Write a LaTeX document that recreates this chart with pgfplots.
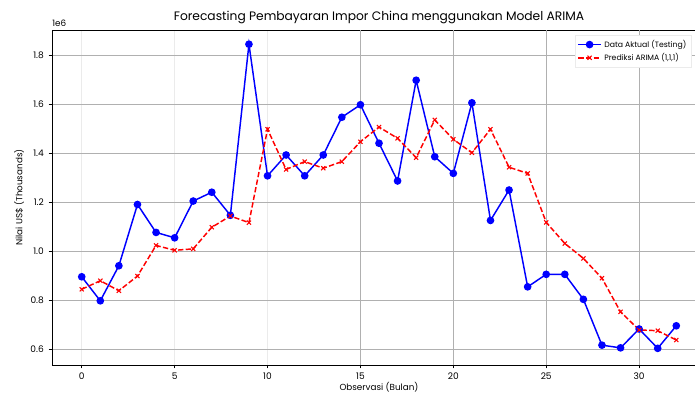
\documentclass[border=0pt]{standalone}
\usepackage{pgfplots}
\pgfplotsset{compat=1.18}
\usepackage{fontspec}
\setmainfont{Poppins}
\definecolor{gridd}{RGB}{176,176,176}
\definecolor{gridl}{RGB}{235,235,235}
\begin{document}
\begin{tikzpicture}
\path[use as bounding box] (0,0) rectangle (521.25pt,295.5pt);
\begin{axis}[
  at={(39pt,21.75pt)}, anchor=south west,
  scale only axis, width=490.5pt, height=251.25pt,
  xmin=-1.6, xmax=33.6, ymin=0.535, ymax=1.902,
  xtick={0,5,10,15,20,25,30},
  ytick={0.6,0.8,1.0,1.2,1.4,1.6,1.8},
  xmajorgrids, ymajorgrids,
  major x grid style={color=gridl, line width=0.6pt},
  major y grid style={color=gridd, line width=0.6pt},
  axis line style={black, line width=0.6pt},
  tick style={black, line width=0.6pt},
  tick align=outside, major tick length=2.6pt,
  xtick pos=bottom, ytick pos=left,
  scaled y ticks=false,
  /pgf/number format/assume math mode=true,
  yticklabel style={/pgf/number format/fixed, /pgf/number format/fixed zerofill, /pgf/number format/precision=1},
  ticklabel style={font=\fontsize{6.8}{8}\selectfont},
  title={Forecasting Pembayaran Impor China menggunakan Model ARIMA},
  title style={font=\fontsize{9.2}{10}\selectfont, yshift=-5pt},
  xlabel={Observasi (Bulan)},
  ylabel={Nilai US\$ (Thousands)},
  label style={font=\fontsize{6.6}{8}\selectfont},
  xlabel style={yshift=5pt},
  ylabel style={yshift=-2pt},
  legend style={at={(0.80,0.985)}, anchor=north west, draw=gridl, fill=white,
    font=\fontsize{5.8}{7}\selectfont, inner sep=1.5pt, row sep=-1pt,
    legend cell align=left},
  clip=false,
]
\pgfplotsinvokeforeach{15,20,25,30}{
  \draw[gridd, line width=0.6pt] (axis cs:#1,0.535) -- (axis cs:#1,1.902);
}
\addplot[blue, line width=1.1pt, mark=*, mark size=2.3pt, mark options={solid}] coordinates {
(0,0.895) (1,0.797) (2,0.940) (3,1.190) (4,1.076) (5,1.054) (6,1.204) (7,1.240)
(8,1.146) (9,1.844) (10,1.307) (11,1.392) (12,1.307) (13,1.392) (14,1.546) (15,1.597)
(16,1.440) (17,1.286) (18,1.697) (19,1.385) (20,1.317) (21,1.605) (22,1.125) (23,1.249)
(24,0.854) (25,0.905) (26,0.905) (27,0.803) (28,0.616) (29,0.605) (30,0.682) (31,0.603) (32,0.695)
};
\addlegendentry{Data Aktual (Testing)}
\addplot[red, line width=1.1pt, dash pattern=on 4pt off 1.8pt, mark=x, mark size=2.2pt, mark options={solid, line width=0.8pt}] coordinates {
(0,0.844) (1,0.879) (2,0.838) (3,0.898) (4,1.023) (5,1.003) (6,1.009) (7,1.097)
(8,1.143) (9,1.116) (10,1.497) (11,1.333) (12,1.365) (13,1.338) (14,1.365) (15,1.446)
(16,1.506) (17,1.460) (18,1.381) (19,1.535) (20,1.456) (21,1.401) (22,1.497) (23,1.342)
(24,1.317) (25,1.117) (26,1.031) (27,0.970) (28,0.889) (29,0.752) (30,0.678) (31,0.675) (32,0.637)
};
\addlegendentry{Prediksi ARIMA (1,1,1)}
\node[anchor=south west, inner sep=0pt, font=\fontsize{6.6}{8}\selectfont] at (rel axis cs:0,1) [yshift=2pt] {1e6};
\end{axis}
\end{tikzpicture}
\end{document}
